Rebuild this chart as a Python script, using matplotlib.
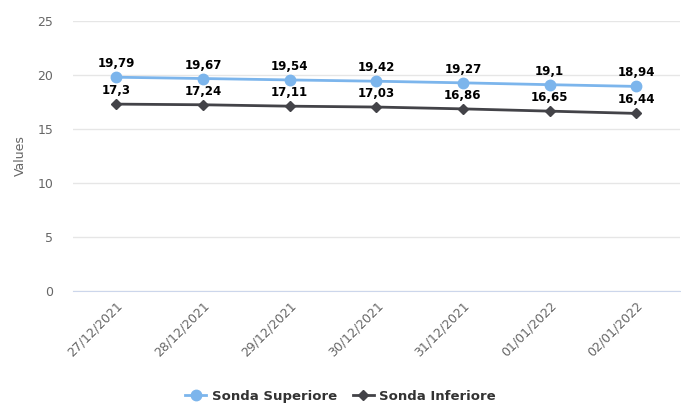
import matplotlib
matplotlib.use("Agg")
import matplotlib.pyplot as plt
from matplotlib.lines import Line2D

# data
dates = ["27/12/2021", "28/12/2021", "29/12/2021", "30/12/2021",
         "31/12/2021", "01/01/2022", "02/01/2022"]
sonda_superiore = [19.79, 19.67, 19.54, 19.42, 19.27, 19.1, 18.94]
sonda_inferiore = [17.3, 17.24, 17.11, 17.03, 16.86, 16.65, 16.44]
y_ticks = [0, 5, 10, 15, 20, 25]

blue = "#7cb5ec"
dark = "#434348"

plt.rcParams['font.family'] = ['DejaVu Sans']

fig = plt.figure(figsize=(6.81, 4.03), dpi=100)
ax = fig.add_axes([0.107, 0.278, 0.891, 0.67])

x = list(range(len(dates)))

ax.plot(x, sonda_superiore, color=blue, lw=2, marker="o", ms=7.5, zorder=3)
ax.plot(x, sonda_inferiore, color=dark, lw=2, marker="D", ms=5, zorder=3)


def fmt(v):
    return f"{v:g}".replace(".", ",")


for xi, v in zip(x, sonda_superiore):
    ax.annotate(fmt(v), (xi, v), xytext=(0, 5), textcoords="offset points",
                ha="center", va="bottom", fontsize=8.5, fontweight="bold", color="black")
for xi, v in zip(x, sonda_inferiore):
    ax.annotate(fmt(v), (xi, v), xytext=(0, 5), textcoords="offset points",
                ha="center", va="bottom", fontsize=8.5, fontweight="bold", color="black")

ax.set_xlim(-0.5, len(dates) - 0.5)
ax.set_ylim(0, 25)
ax.set_yticks(y_ticks)
ax.set_yticklabels([str(t) for t in y_ticks])
ax.set_xticks(x)
ax.set_xticklabels(dates, rotation=45, ha="right", rotation_mode="anchor")

ax.grid(axis="y", color="#e6e6e6", lw=1)
ax.set_axisbelow(True)
for side in ["top", "right", "left"]:
    ax.spines[side].set_visible(False)
ax.spines["bottom"].set_color("#ccd6eb")
ax.tick_params(axis="both", length=0, colors="#666666", labelsize=9)
ax.tick_params(axis="x", pad=6)
ax.tick_params(axis="y", pad=14)

ax.set_ylabel("Values", color="#666666", fontsize=9)
ax.yaxis.set_label_coords(-0.076, 0.5)

handles = [
    Line2D([0], [0], color=blue, lw=2, marker="o", ms=7.5),
    Line2D([0], [0], color=dark, lw=2, marker="D", ms=5),
]
fig.legend(handles, ["Sonda Superiore", "Sonda Inferiore"], loc="center",
           bbox_to_anchor=(0.5, 0.017), ncol=2, frameon=False,
           prop={"size": 9.5, "weight": "bold"}, handlelength=1.6,
           handletextpad=0.4, columnspacing=1.2, labelcolor="#333333")

fig.savefig("out.png", dpi=100)
